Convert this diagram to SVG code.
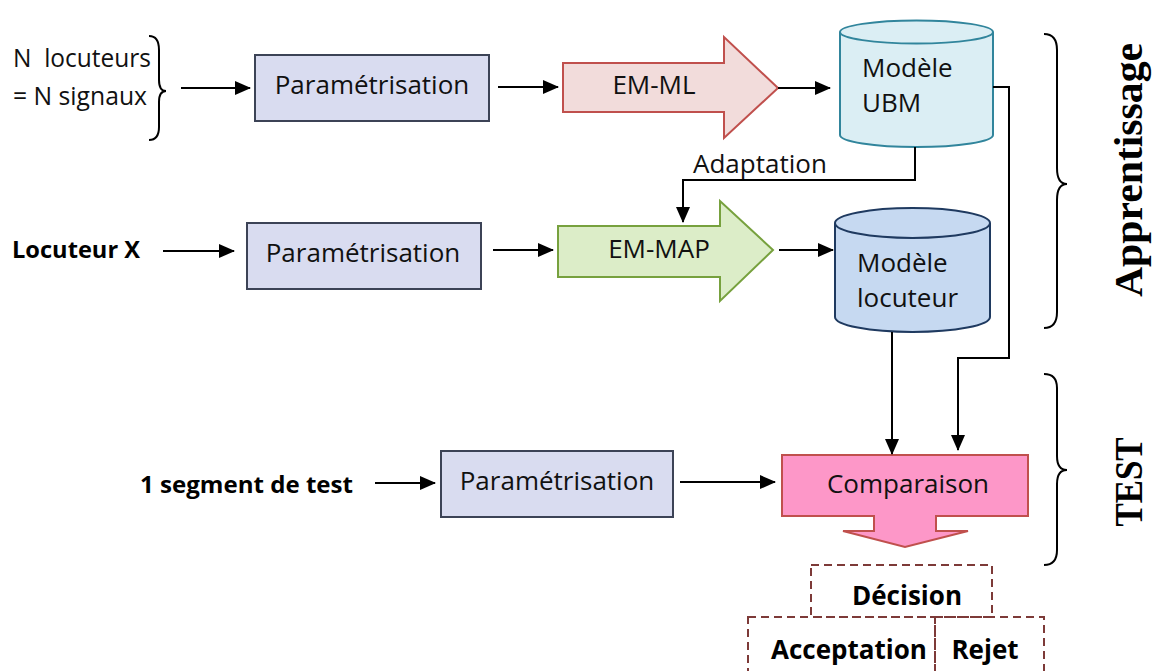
<svg xmlns="http://www.w3.org/2000/svg" width="1152" height="671" viewBox="0 0 1152 671">
  <defs>
    <marker id="head" markerUnits="userSpaceOnUse" markerWidth="16" markerHeight="14" refX="15" refY="7" orient="auto">
      <path d="M0,0 L16,7 L0,14 Z" fill="#000"/>
    </marker>
    <style>
      .txt { font-family: "Open Sans", "Liberation Sans", sans-serif; font-size: 26px; fill: #111; }
      .bold { font-family: "Open Sans", "Liberation Sans", sans-serif; font-weight: bold; fill: #000; }
      .side { font-family: "Liberation Serif", "DejaVu Serif", serif; font-weight: bold; font-size: 39px; fill: #000; }
      .param { fill: #d9dcf0; stroke: #3c4356; stroke-width: 2; }
      .wire { fill: none; stroke: #000; stroke-width: 2; }
      .arrow { fill: none; stroke: #000; stroke-width: 2; marker-end: url(#head); }
      .brace { fill: none; stroke: #000; stroke-width: 2; }
      .dash { fill: none; stroke: #7d3a38; stroke-width: 2; stroke-dasharray: 8 5; }
    </style>
  </defs>

  <rect width="1152" height="671" fill="#fff"/>

  <!-- input labels -->
  <g id="input-n">
    <text class="txt" x="13" y="67" font-size="25" xml:space="preserve" textLength="138" lengthAdjust="spacingAndGlyphs">N  locuteurs</text>
    <text class="txt" x="13" y="105" font-size="25" textLength="134" lengthAdjust="spacingAndGlyphs">= N signaux</text>
    <path class="brace" d="M149,36 Q159,36 159,50 V80 Q159,91 166,91 Q159,91 159,102 V127 Q159,140 149,140"/>
  </g>
  <g id="input-x">
    <text class="bold" x="12" y="258" font-size="23" textLength="128" lengthAdjust="spacingAndGlyphs">Locuteur X</text>
  </g>
  <g id="input-test">
    <text class="bold" x="140" y="493" font-size="23" textLength="213" lengthAdjust="spacingAndGlyphs">1 segment de test</text>
  </g>

  <!-- feature extraction blocks -->
  <g id="param-1">
    <rect class="param" x="255" y="55" width="234" height="66"/>
    <text class="txt" x="372" y="94" text-anchor="middle">Paramétrisation</text>
  </g>
  <g id="param-2">
    <rect class="param" x="247" y="223" width="234" height="66"/>
    <text class="txt" x="363" y="262" text-anchor="middle">Paramétrisation</text>
  </g>
  <g id="param-3">
    <rect class="param" x="441" y="451" width="232" height="66"/>
    <text class="txt" x="557" y="490" text-anchor="middle">Paramétrisation</text>
  </g>

  <!-- training algorithms -->
  <g id="em-ml">
    <path d="M563,63 H724 V37 L778,88 L724,138 V112 H563 Z" fill="#f2dcdb" stroke="#c0504d" stroke-width="2"/>
    <text class="txt" x="654" y="94" text-anchor="middle">EM-ML</text>
  </g>
  <g id="em-map">
    <path d="M558,226 H720 V201 L773,250 L720,301 V277 H558 Z" fill="#dcedc8" stroke="#77a13e" stroke-width="2"/>
    <text class="txt" x="659" y="258" text-anchor="middle">EM-MAP</text>
  </g>

  <!-- models -->
  <g id="ubm">
    <path d="M840,32 V135 A76.5,12 0 0 0 993,135 V32" fill="#dbeef4" stroke="#31859c" stroke-width="2"/>
    <ellipse cx="916.5" cy="32" rx="76.5" ry="11.5" fill="#dbeef4" stroke="#31859c" stroke-width="2"/>
    <text class="txt" x="862" y="77">Modèle</text>
    <text class="txt" x="862" y="112">UBM</text>
  </g>
  <g id="speaker-model">
    <path d="M835,223 V317 A77.5,15 0 0 0 990,317 V223" fill="#c6d9f1" stroke="#1f3a60" stroke-width="2"/>
    <ellipse cx="912.5" cy="223" rx="77.5" ry="15" fill="#c6d9f1" stroke="#1f3a60" stroke-width="2"/>
    <text class="txt" x="857" y="272">Modèle</text>
    <text class="txt" x="857" y="307">locuteur</text>
  </g>

  <!-- scoring -->
  <g id="comparaison">
    <path d="M782,455 H1028 V516 H936 V531 H968 L905,547 L843,531 H874 V516 H782 Z" fill="#fd97c8" stroke="#c0504d" stroke-width="2"/>
    <text class="txt" x="908" y="493" text-anchor="middle">Comparaison</text>
  </g>

  <!-- decision -->
  <g id="decision">
    <rect class="dash" x="811" y="565" width="181" height="52"/>
    <text class="bold" x="907" y="605" font-size="26" text-anchor="middle">Décision</text>
  </g>
  <g id="acceptation">
    <rect class="dash" x="748" y="617" width="187" height="70"/>
    <text class="bold" x="849" y="659" font-size="26" text-anchor="middle">Acceptation</text>
  </g>
  <g id="rejet">
    <rect class="dash" x="935" y="617" width="109" height="70"/>
    <text class="bold" x="985" y="659" font-size="26" text-anchor="middle">Rejet</text>
  </g>

  <!-- phase brackets -->
  <g id="phase-apprentissage">
    <path class="brace" d="M1044,34 Q1057,34 1057,50 V168 Q1057,184 1067,184 Q1057,184 1057,200 V312 Q1057,328 1044,328"/>
    <text class="side" transform="translate(1142,170) rotate(-90)" text-anchor="middle" textLength="254" lengthAdjust="spacingAndGlyphs">Apprentissage</text>
  </g>
  <g id="phase-test">
    <path class="brace" d="M1044,374 Q1057,374 1057,388 V456 Q1057,470 1067,470 Q1057,470 1057,484 V550 Q1057,565 1044,565"/>
    <text class="side" transform="translate(1142,482) rotate(-90)" text-anchor="middle" textLength="89" lengthAdjust="spacingAndGlyphs">TEST</text>
  </g>

  <!-- connectors -->
  <g id="connectors">
    <line class="arrow" x1="181" y1="88" x2="250" y2="88"/>
    <line class="arrow" x1="498" y1="87" x2="558" y2="87"/>
    <line class="arrow" x1="778" y1="88" x2="830" y2="88"/>
    <line class="arrow" x1="163" y1="251" x2="234" y2="251"/>
    <line class="arrow" x1="493" y1="250" x2="553" y2="250"/>
    <line class="arrow" x1="779" y1="250" x2="833" y2="250"/>
    <line class="arrow" x1="375" y1="483" x2="435" y2="483"/>
    <line class="arrow" x1="680" y1="482" x2="775" y2="482"/>
    <!-- adaptation from UBM -->
    <polyline class="arrow" points="915,147 915,180 683,180 683,222"/>
    <text class="txt" x="693" y="173" font-size="25">Adaptation</text>
    <!-- models to comparison -->
    <line class="arrow" x1="892" y1="332" x2="892" y2="454"/>
    <polyline class="arrow" points="993,87 1009,87 1009,358 958,358 958,450"/>
  </g>
</svg>
